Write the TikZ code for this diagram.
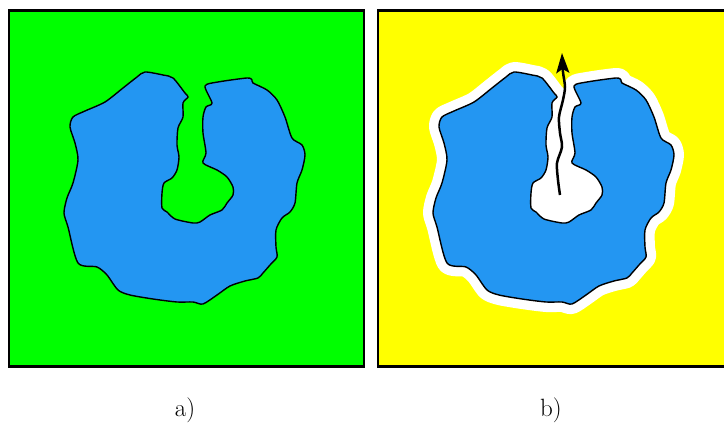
\documentclass[tikz,border=0pt]{standalone}
\usepackage{fontspec}
\usepackage{tikz}
\usetikzlibrary{arrows.meta, positioning}

\definecolor{fieldgreen}{RGB}{0,255,0}
\definecolor{fieldyellow}{RGB}{255,255,0}
\definecolor{blobblue}{RGB}{35,150,242}

% outline of the blob (pixel units, y downwards)
\newcommand{\blobshape}{plot[smooth cycle, tension=0.45] coordinates {
  (145,72) (163,75) (173,78) (185,93) (188,97) (183,103) (183,117) (178,128)
  (177,145) (179,157) (177,170) (172,178) (164,183) (162,193) (162,208) (167,212)
  (175,219) (193,223) (200,222) (210,215) (222,210) (227,203) (233,195) (233,187)
  (227,177) (217,170) (203,163) (206,153) (203,133) (203,117) (206,107) (212,103)
  (205,86) (218,82) (247,78) (252,80) (253,83) (267,90) (277,100) (285,117)
  (292,138) (302,145) (305,155) (302,170) (297,183) (295,203) (290,212) (282,218)
  (276,230) (276,247) (277,257) (270,265) (263,273) (258,278) (245,281) (230,286)
  (217,295) (203,304) (193,302) (177,302) (153,299) (130,295) (118,290) (107,275)
  (97,267) (78,263) (68,227) (64,213) (67,198) (73,183) (78,160) (75,143)
  (70,127) (73,117) (85,111) (105,102) (123,88) (137,77)}}
% inner pocket of the blob
\newcommand{\pocketshape}{plot[smooth cycle, tension=0.45] coordinates {
  (185,93) (188,97) (183,103) (183,117) (178,128) (177,145) (179,157) (177,170)
  (172,178) (164,183) (162,193) (162,208) (167,212) (175,219) (193,223) (200,222)
  (210,215) (222,210) (227,203) (233,195) (233,187) (227,177) (217,170) (203,163)
  (206,153) (203,133) (203,117) (206,107) (212,103) (205,86)}}

\begin{document}
\begin{tikzpicture}[
    x=1pt, y=-1pt,
    panel/.style={draw=black, line width=2.2pt},
    blob/.style={fill=blobblue, draw=black, line width=1.4pt},
    halo/.style={draw=white, line width=20pt, line join=round},
    path/.style={draw=black, line width=2.5pt, -{Stealth[length=20pt, width=13pt, inset=4pt]}},
    panellabel/.style={font=\fontsize{25}{30}\selectfont}
]
\clip (0,0) rectangle (724,425);

% a)
\path[panel, fill=fieldgreen] (9,10.5) rectangle (364,366.5);
\path[blob] \blobshape;

% b)
\path[panel, fill=fieldyellow] (378,10.5) rectangle (740,366.5);
\begin{scope}[shift={(369,0)}]
  \path[halo] \blobshape;
  \path[fill=white] \pocketshape;
  \path[blob] \blobshape;
  \path[path] plot[smooth, tension=0.5] coordinates {
    (191,195) (189,180) (188,163) (193,147) (191,133) (190,117)
    (194,100) (196,87) (194,72) (193,53)};
\end{scope}

% Beschriftung
\node[panellabel] (laba) at (185,410) {a)};
\node[panellabel] (labb) at (551,410) {b)};

\end{tikzpicture}
\end{document}
